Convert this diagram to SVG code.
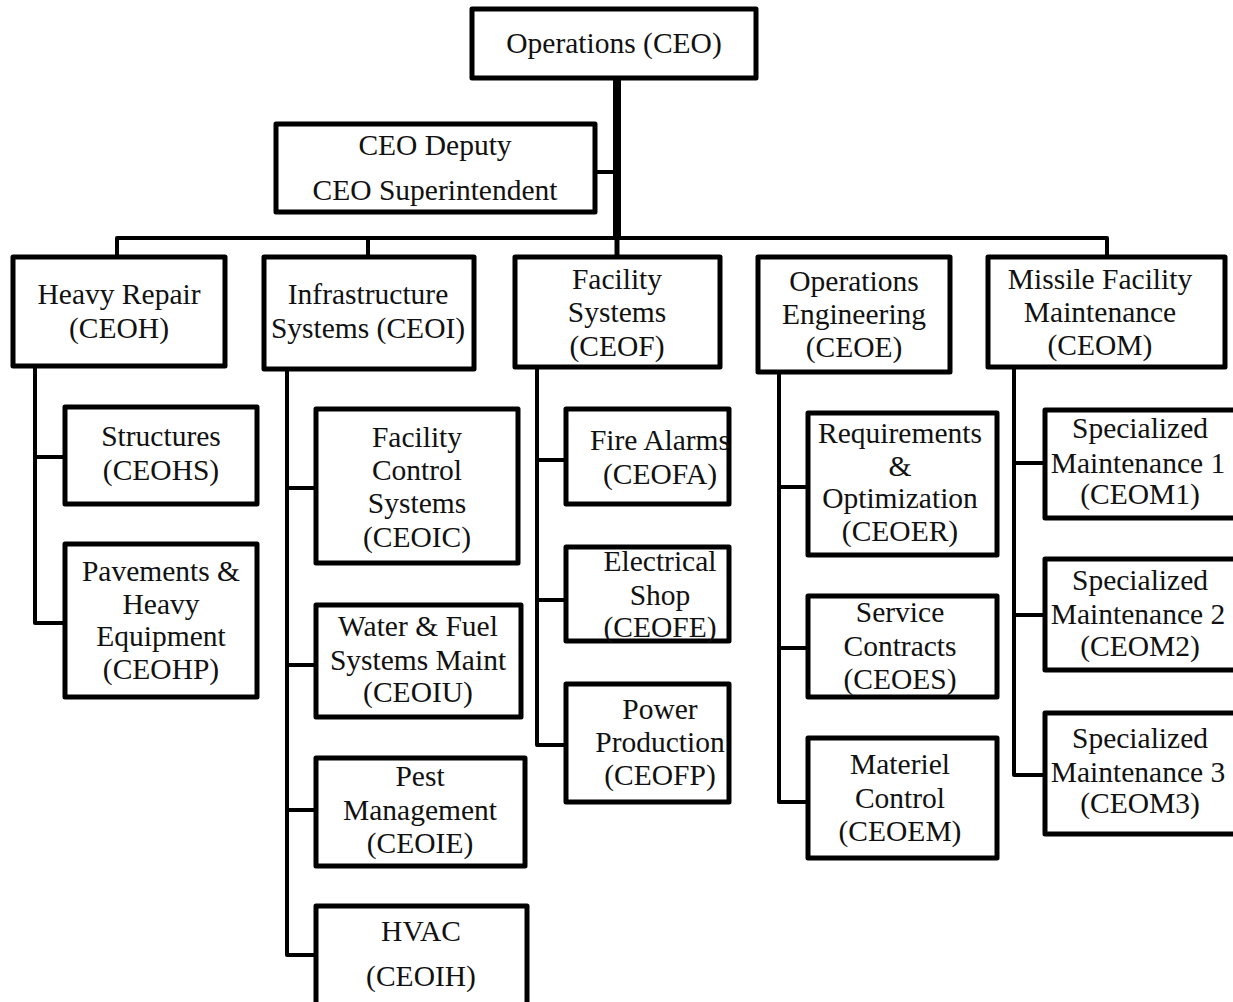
<svg xmlns="http://www.w3.org/2000/svg" width="1233" height="1002" viewBox="0 0 1233 1002">
<defs>
<rect id="bg" width="1233" height="1002" fill="#fff"/>
</defs>
<use href="#bg"/>
<g id="connectors" fill="none" stroke="#000" stroke-width="4" stroke-linejoin="round">
<path d="M617,79 V238" stroke-width="8"/>
<path d="M117,256 V238 H1107 V256"/>
<path d="M368,238 V256"/>
<path d="M617,238 V256" stroke-width="5"/>
<path d="M596,172 H617"/>
<path d="M35,367 V623 H65 M35,457 H65"/>
<path d="M287,370 V955 H316 M287,488 H316 M287,665 H316 M287,810 H316"/>
<path d="M537,367 V745 H566 M537,460 H566 M537,600 H566"/>
<path d="M779,372 V802 H808 M779,487 H808 M779,648 H808"/>
<path d="M1014,367 V775 H1045 M1014,463 H1045 M1014,615 H1045"/>
</g>
<g id="nodes" fill="#fff" stroke="#000" stroke-width="5" stroke-linejoin="round">
<g id="ceo"><rect x="472" y="9" width="284" height="69"/><text font-family="Liberation Serif" font-size="29.5" text-anchor="middle" fill="#111" stroke="none" x="614" y="53">Operations (CEO)</text></g>
<g id="deputy"><rect x="276" y="124" width="319" height="88"/><text font-family="Liberation Serif" font-size="29.5" text-anchor="middle" fill="#111" stroke="none" x="435" y="155">CEO Deputy</text><text font-family="Liberation Serif" font-size="29.5" text-anchor="middle" fill="#111" stroke="none" x="435" y="200">CEO Superintendent</text></g>
<g id="ceoh"><rect x="13" y="257" width="212" height="109"/><text font-family="Liberation Serif" font-size="29.5" text-anchor="middle" fill="#111" stroke="none" x="119" y="304">Heavy Repair</text><text font-family="Liberation Serif" font-size="29.5" text-anchor="middle" fill="#111" stroke="none" x="119" y="338">(CEOH)</text></g>
<g id="ceoi"><rect x="264" y="257" width="210" height="112"/><text font-family="Liberation Serif" font-size="29.5" text-anchor="middle" fill="#111" stroke="none" x="368" y="304">Infrastructure</text><text font-family="Liberation Serif" font-size="29.5" text-anchor="middle" fill="#111" stroke="none" x="368" y="338">Systems (CEOI)</text></g>
<g id="ceof"><rect x="515" y="257" width="205" height="110"/><text font-family="Liberation Serif" font-size="29.5" text-anchor="middle" fill="#111" stroke="none" x="617" y="289">Facility</text><text font-family="Liberation Serif" font-size="29.5" text-anchor="middle" fill="#111" stroke="none" x="617" y="322">Systems</text><text font-family="Liberation Serif" font-size="29.5" text-anchor="middle" fill="#111" stroke="none" x="617" y="356">(CEOF)</text></g>
<g id="ceoe"><rect x="758" y="257" width="192" height="115"/><text font-family="Liberation Serif" font-size="29.5" text-anchor="middle" fill="#111" stroke="none" x="854" y="291">Operations</text><text font-family="Liberation Serif" font-size="29.5" text-anchor="middle" fill="#111" stroke="none" x="854" y="324">Engineering</text><text font-family="Liberation Serif" font-size="29.5" text-anchor="middle" fill="#111" stroke="none" x="854" y="357">(CEOE)</text></g>
<g id="ceom"><rect x="988" y="257" width="237" height="110"/><text font-family="Liberation Serif" font-size="29.5" text-anchor="middle" fill="#111" stroke="none" x="1100" y="289">Missile Facility</text><text font-family="Liberation Serif" font-size="29.5" text-anchor="middle" fill="#111" stroke="none" x="1100" y="322">Maintenance</text><text font-family="Liberation Serif" font-size="29.5" text-anchor="middle" fill="#111" stroke="none" x="1100" y="355">(CEOM)</text></g>
<g id="ceohs"><rect x="65" y="407" width="192" height="97"/><text font-family="Liberation Serif" font-size="29.5" text-anchor="middle" fill="#111" stroke="none" x="161" y="446">Structures</text><text font-family="Liberation Serif" font-size="29.5" text-anchor="middle" fill="#111" stroke="none" x="161" y="480">(CEOHS)</text></g>
<g id="ceohp"><rect x="65" y="544" width="192" height="153"/><text font-family="Liberation Serif" font-size="29.5" text-anchor="middle" fill="#111" stroke="none" x="161" y="581">Pavements &amp;</text><text font-family="Liberation Serif" font-size="29.5" text-anchor="middle" fill="#111" stroke="none" x="161" y="614">Heavy</text><text font-family="Liberation Serif" font-size="29.5" text-anchor="middle" fill="#111" stroke="none" x="161" y="646">Equipment</text><text font-family="Liberation Serif" font-size="29.5" text-anchor="middle" fill="#111" stroke="none" x="161" y="679">(CEOHP)</text></g>
<g id="ceoic"><rect x="316" y="409" width="202" height="154"/><text font-family="Liberation Serif" font-size="29.5" text-anchor="middle" fill="#111" stroke="none" x="417" y="447">Facility</text><text font-family="Liberation Serif" font-size="29.5" text-anchor="middle" fill="#111" stroke="none" x="417" y="480">Control</text><text font-family="Liberation Serif" font-size="29.5" text-anchor="middle" fill="#111" stroke="none" x="417" y="513">Systems</text><text font-family="Liberation Serif" font-size="29.5" text-anchor="middle" fill="#111" stroke="none" x="417" y="547">(CEOIC)</text></g>
<g id="ceoiu"><rect x="316" y="605" width="205" height="112"/><text font-family="Liberation Serif" font-size="29.5" text-anchor="middle" fill="#111" stroke="none" x="418" y="636">Water &amp; Fuel</text><text font-family="Liberation Serif" font-size="29.5" text-anchor="middle" fill="#111" stroke="none" x="418" y="670">Systems Maint</text><text font-family="Liberation Serif" font-size="29.5" text-anchor="middle" fill="#111" stroke="none" x="418" y="702">(CEOIU)</text></g>
<g id="ceoie"><rect x="316" y="758" width="209" height="108"/><text font-family="Liberation Serif" font-size="29.5" text-anchor="middle" fill="#111" stroke="none" x="420" y="786">Pest</text><text font-family="Liberation Serif" font-size="29.5" text-anchor="middle" fill="#111" stroke="none" x="420" y="820">Management</text><text font-family="Liberation Serif" font-size="29.5" text-anchor="middle" fill="#111" stroke="none" x="420" y="853">(CEOIE)</text></g>
<g id="ceoih"><rect x="316" y="906" width="211" height="104"/><text font-family="Liberation Serif" font-size="29.5" text-anchor="middle" fill="#111" stroke="none" x="421" y="941">HVAC</text><text font-family="Liberation Serif" font-size="29.5" text-anchor="middle" fill="#111" stroke="none" x="421" y="986">(CEOIH)</text></g>
<g id="ceofa"><rect x="566" y="409" width="163" height="95"/><text font-family="Liberation Serif" font-size="29.5" text-anchor="middle" fill="#111" stroke="none" x="660" y="450">Fire Alarms</text><text font-family="Liberation Serif" font-size="29.5" text-anchor="middle" fill="#111" stroke="none" x="660" y="484">(CEOFA)</text></g>
<g id="ceofe"><rect x="566" y="547" width="163" height="94"/><text font-family="Liberation Serif" font-size="29.5" text-anchor="middle" fill="#111" stroke="none" x="660" y="571">Electrical</text><text font-family="Liberation Serif" font-size="29.5" text-anchor="middle" fill="#111" stroke="none" x="660" y="605">Shop</text><text font-family="Liberation Serif" font-size="29.5" text-anchor="middle" fill="#111" stroke="none" x="660" y="637">(CEOFE)</text></g>
<g id="ceofp"><rect x="566" y="684" width="163" height="118"/><text font-family="Liberation Serif" font-size="29.5" text-anchor="middle" fill="#111" stroke="none" x="660" y="719">Power</text><text font-family="Liberation Serif" font-size="29.5" text-anchor="middle" fill="#111" stroke="none" x="660" y="752">Production</text><text font-family="Liberation Serif" font-size="29.5" text-anchor="middle" fill="#111" stroke="none" x="660" y="785">(CEOFP)</text></g>
<g id="ceoer"><rect x="808" y="413" width="189" height="142"/><text font-family="Liberation Serif" font-size="29.5" text-anchor="middle" fill="#111" stroke="none" x="900" y="443">Requirements</text><text font-family="Liberation Serif" font-size="29.5" text-anchor="middle" fill="#111" stroke="none" x="900" y="476">&amp;</text><text font-family="Liberation Serif" font-size="29.5" text-anchor="middle" fill="#111" stroke="none" x="900" y="508">Optimization</text><text font-family="Liberation Serif" font-size="29.5" text-anchor="middle" fill="#111" stroke="none" x="900" y="541">(CEOER)</text></g>
<g id="ceoes"><rect x="808" y="596" width="189" height="101"/><text font-family="Liberation Serif" font-size="29.5" text-anchor="middle" fill="#111" stroke="none" x="900" y="622">Service</text><text font-family="Liberation Serif" font-size="29.5" text-anchor="middle" fill="#111" stroke="none" x="900" y="656">Contracts</text><text font-family="Liberation Serif" font-size="29.5" text-anchor="middle" fill="#111" stroke="none" x="900" y="689">(CEOES)</text></g>
<g id="ceoem"><rect x="808" y="738" width="189" height="120"/><text font-family="Liberation Serif" font-size="29.5" text-anchor="middle" fill="#111" stroke="none" x="900" y="774">Materiel</text><text font-family="Liberation Serif" font-size="29.5" text-anchor="middle" fill="#111" stroke="none" x="900" y="808">Control</text><text font-family="Liberation Serif" font-size="29.5" text-anchor="middle" fill="#111" stroke="none" x="900" y="841">(CEOEM)</text></g>
<g id="ceom1"><rect x="1045" y="410" width="195" height="108"/><text font-family="Liberation Serif" font-size="29.5" text-anchor="middle" fill="#111" stroke="none" x="1140" y="438">Specialized</text><text font-family="Liberation Serif" font-size="29.5" text-anchor="middle" fill="#111" stroke="none" x="1138" y="473">Maintenance 1</text><text font-family="Liberation Serif" font-size="29.5" text-anchor="middle" fill="#111" stroke="none" x="1140" y="504">(CEOM1)</text></g>
<g id="ceom2"><rect x="1045" y="559" width="195" height="111"/><text font-family="Liberation Serif" font-size="29.5" text-anchor="middle" fill="#111" stroke="none" x="1140" y="590">Specialized</text><text font-family="Liberation Serif" font-size="29.5" text-anchor="middle" fill="#111" stroke="none" x="1138" y="624">Maintenance 2</text><text font-family="Liberation Serif" font-size="29.5" text-anchor="middle" fill="#111" stroke="none" x="1140" y="656">(CEOM2)</text></g>
<g id="ceom3"><rect x="1045" y="713" width="195" height="121"/><text font-family="Liberation Serif" font-size="29.5" text-anchor="middle" fill="#111" stroke="none" x="1140" y="748">Specialized</text><text font-family="Liberation Serif" font-size="29.5" text-anchor="middle" fill="#111" stroke="none" x="1138" y="782">Maintenance 3</text><text font-family="Liberation Serif" font-size="29.5" text-anchor="middle" fill="#111" stroke="none" x="1140" y="813">(CEOM3)</text></g>
</g>
</svg>
